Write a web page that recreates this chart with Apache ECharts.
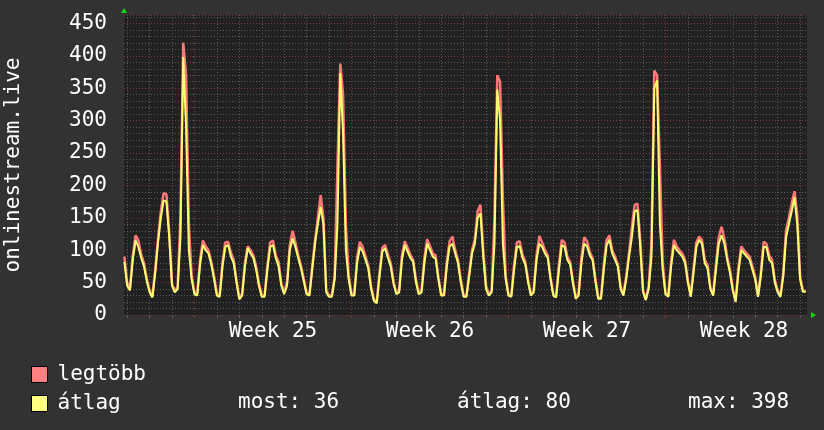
<!DOCTYPE html>
<html lang="hu">
<head>
<meta charset="UTF-8">
<title>onlinestream.live</title>
<script src="https://cdn.jsdelivr.net/npm/echarts@6/dist/echarts.min.js"></script>
<style>
    html, body { margin: 0; padding: 0; background: #323232; }
    #main { width: 824px; height: 430px; }
</style>
</head>
<body>
<div id="main"></div>
<script>
    // samples every 3 hours, first one 75 h before Monday 00:00 of week 25
    const startHour = -75;
    const stepHours = 3;

    // átlag (yellow), one row per day (0,3,6,...,21 h)
    const avgValues = [
        82,
        45, 38, 85, 115, 105, 88, 75, 52,
        35, 27, 65, 112, 150, 177, 175, 120,
        45, 35, 40, 120, 398, 290, 100, 55,
        32, 30, 78, 108, 100, 95, 78, 55,
        30, 28, 75, 105, 108, 90, 80, 50,
        24, 30, 75, 103, 95, 88, 70, 45,
        28, 28, 70, 105, 108, 88, 75, 45,
        32, 45, 100, 118, 105, 88, 72, 52,
        32, 30, 70, 110, 140, 167, 140, 35,
        28, 28, 55, 140, 373, 280, 100, 55,
        30, 30, 80, 105, 98, 85, 72, 40,
        22, 18, 60, 98, 103, 88, 75, 48,
        32, 35, 85, 108, 98, 88, 82, 50,
        32, 35, 80, 110, 100, 90, 87, 55,
        30, 30, 75, 106, 110, 95, 80, 50,
        28, 28, 60, 95, 110, 150, 157, 90,
        40, 30, 35, 110, 348, 300, 110, 55,
        30, 28, 70, 105, 106, 88, 78, 50,
        30, 35, 85, 110, 105, 95, 88, 55,
        30, 27, 70, 108, 105, 85, 78, 48,
        25, 30, 80, 110, 106, 92, 85, 52,
        25, 25, 70, 108, 116, 95, 85, 75,
        40, 30, 55, 90, 120, 160, 162, 105,
        35, 23, 40, 90, 350, 362, 140, 70,
        32, 28, 75, 108, 100, 95, 90, 80,
        50, 28, 65, 105, 116, 110, 80, 72,
        40, 30, 70, 110, 123, 110, 85, 65,
        38, 20, 65, 100, 95, 90, 85, 70,
        55, 28, 60, 105, 105, 85, 80, 50,
        35, 28, 60, 120, 140, 160, 182, 140,
        55, 36, 36
    ];

    // legtöbb (red)
    const maxValues = [
        90,
        50, 42, 92, 123, 115, 93, 80, 56,
        38, 29, 70, 118, 160, 188, 186, 128,
        48, 37, 44, 150, 420, 370, 140, 60,
        35, 33, 85, 115, 106, 100, 82, 60,
        33, 30, 82, 112, 113, 96, 85, 53,
        26, 33, 80, 106, 100, 92, 75, 48,
        30, 30, 75, 112, 115, 92, 82, 48,
        35, 50, 108, 130, 112, 92, 76, 55,
        34, 32, 75, 115, 150, 185, 150, 38,
        30, 30, 60, 230, 388, 340, 140, 62,
        32, 33, 88, 113, 105, 90, 76, 44,
        24, 20, 65, 104, 108, 93, 80, 52,
        34, 38, 92, 114, 104, 93, 85, 55,
        34, 38, 88, 117, 106, 95, 92, 58,
        32, 33, 82, 114, 121, 100, 85, 54,
        30, 30, 65, 100, 117, 160, 170, 100,
        45, 32, 38, 150, 370, 360, 180, 60,
        32, 30, 78, 112, 114, 93, 82, 54,
        32, 38, 92, 122, 112, 100, 92, 58,
        32, 30, 78, 116, 112, 90, 82, 52,
        27, 33, 88, 120, 114, 97, 88, 56,
        27, 28, 78, 116, 123, 100, 90, 78,
        44, 33, 60, 96, 135, 170, 172, 115,
        38, 25, 45, 110, 377, 370, 230, 80,
        35, 30, 82, 116, 106, 100, 95, 84,
        53, 30, 72, 112, 121, 116, 85, 77,
        43, 32, 78, 120, 136, 118, 90, 70,
        40, 22, 72, 106, 100, 95, 90, 75,
        58, 30, 65, 113, 110, 92, 85, 54,
        38, 30, 65, 130, 150, 172, 191, 155,
        60, 38, 36
    ];

    const weekLabels = ['Week 25', 'Week 26', 'Week 27', 'Week 28'];
    const weekStarts = [0, 168, 336, 504];
    const statTexts = ['most: 36', 'átlag: 80', 'max: 398'];

    const FONT = 'DejaVu Sans Mono';
    const RED = '#ff7878';
    const YELLOW = '#ffff70';
    const GRID_GRAY = '#5a5a5a';
    const GRID_RED = '#7a3434';

    let dayLines = [];
    for (let h = -72; h <= 648; h += 24) {
        dayLines.push(h);
    }
    let weekMids = weekStarts.map(function (h) { return h + 84; });

    function toPairs(values) {
        return values.map(function (v, i) {
            return [startHour + i * stepHours, v];
        });
    }

    let chart = echarts.init(document.getElementById('main'));
    let option = {
        backgroundColor: '#323232',
        animation: false,
        grid: {
            left: 124,
            right: 17,
            top: 15,
            bottom: 115,
            outerBoundsMode: 'none',
            containLabel: false,
            show: true,
            backgroundColor: '#212121',
            borderWidth: 0
        },
        legend: {
            orient: 'vertical',
            left: 31,
            top: 364,
            padding: 0,
            itemWidth: 16,
            itemHeight: 16,
            itemGap: 8,
            icon: 'rect',
            textStyle: {
                color: '#ffffff',
                fontFamily: FONT,
                fontSize: 21,
                padding: [0, 0, 0, 5]
            },
            data: [
                {name: 'legtöbb', itemStyle: {color: '#ff8080', borderColor: '#000', borderWidth: 1}},
                {name: 'átlag', itemStyle: {color: '#ffff80', borderColor: '#000', borderWidth: 1}}
            ]
        },
        xAxis: [
            {
                type: 'value',
                position: 'bottom',
                min: -75.4,
                max: 655.4,
                axisLine: {show: false},
                axisTick: {show: true, length: 3, customValues: dayLines, lineStyle: {color: GRID_GRAY}},
                axisLabel: {show: false},
                splitLine: {show: true, lineStyle: {color: GRID_GRAY, type: [1, 2]}}
            },
            {
                type: 'value',
                position: 'bottom',
                min: -75.4,
                max: 655.4,
                axisLine: {show: false},
                axisTick: {show: true, length: 3, customValues: weekStarts, lineStyle: {color: GRID_RED}},
                axisLabel: {
                    customValues: weekMids,
                    color: '#ffffff',
                    fontFamily: FONT,
                    fontSize: 21,
                    margin: 6,
                    formatter: function (v) {
                        return weekLabels[weekMids.indexOf(v)];
                    }
                },
                splitLine: {show: true, lineStyle: {color: GRID_RED, type: [1, 2]}}
            }
        ],
        yAxis: [
            {
                type: 'value',
                position: 'left',
                min: 0,
                max: 463,
                interval: 10,
                name: 'onlinestream.live',
                nameLocation: 'middle',
                nameGap: 100,
                nameTextStyle: {color: '#ffffff', fontFamily: FONT, fontSize: 21},
                axisLine: {show: false},
                axisTick: {show: true, length: 2, lineStyle: {color: GRID_GRAY}},
                axisLabel: {
                    color: '#ffffff',
                    fontFamily: FONT,
                    fontSize: 21,
                    margin: 17,
                    padding: [4, 0, 0, 0],
                    formatter: function (v) {
                        return v % 50 === 0 ? String(v) : '';
                    }
                },
                splitLine: {show: true, lineStyle: {color: GRID_GRAY, type: [1, 2]}}
            },
            {
                type: 'value',
                position: 'left',
                min: 0,
                max: 463,
                interval: 50,
                axisLine: {show: false},
                axisTick: {show: false},
                axisLabel: {show: false},
                splitLine: {show: true, lineStyle: {color: GRID_RED, type: [1, 2]}}
            }
        ],
        series: [
            {
                name: 'legtöbb',
                type: 'line',
                xAxisIndex: 0,
                yAxisIndex: 0,
                showSymbol: false,
                color: RED,
                lineStyle: {width: 2.5, color: RED},
                data: toPairs(maxValues)
            },
            {
                name: 'átlag',
                type: 'line',
                xAxisIndex: 0,
                yAxisIndex: 0,
                showSymbol: false,
                color: YELLOW,
                lineStyle: {width: 2, color: YELLOW},
                data: toPairs(avgValues)
            }
        ],
        graphic: [
            {type: 'polygon', shape: {points: [[121, 13], [127, 13], [124, 8]]}, style: {fill: '#14d814'}},
            {type: 'polygon', shape: {points: [[811, 312], [811, 318], [816, 315]]}, style: {fill: '#14d814'}},
            {type: 'text', left: 238, top: 392, style: {text: statTexts[0], fill: '#fff', font: '21px "DejaVu Sans Mono"'}},
            {type: 'text', left: 457, top: 392, style: {text: statTexts[1], fill: '#fff', font: '21px "DejaVu Sans Mono"'}},
            {type: 'text', left: 688, top: 392, style: {text: statTexts[2], fill: '#fff', font: '21px "DejaVu Sans Mono"'}}
        ]
    };

    chart.setOption(option);
</script>
</body>
</html>
